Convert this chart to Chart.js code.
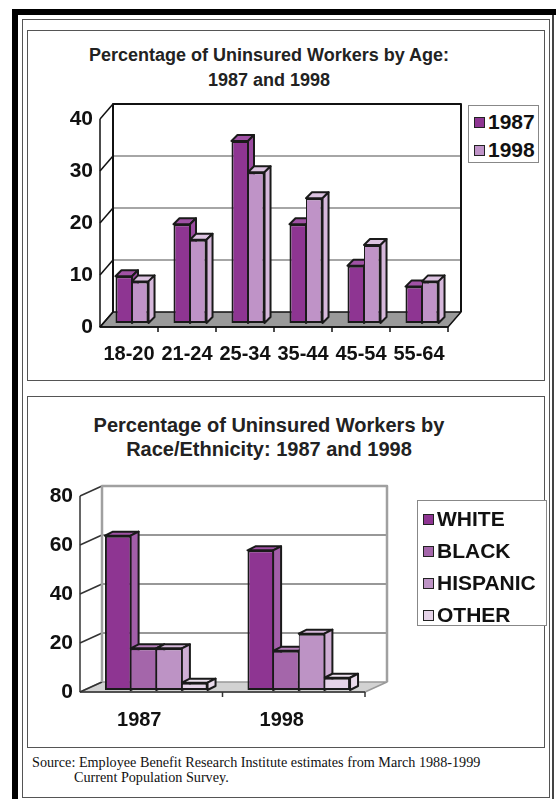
<!DOCTYPE html>
<html>
<head>
<meta charset="utf-8">
<script src="https://cdn.jsdelivr.net/npm/chart.js@4.4.0/dist/chart.umd.min.js"></script>
<style>
    body { margin: 0; width: 556px; height: 799px; position: relative; overflow: hidden; background: #fff;
           font-family: "Liberation Sans", Arial, sans-serif; color: #111; }
    .abs { position: absolute; box-sizing: border-box; }
    #outer { left: 12px; top: 9px; width: 560px; height: 800px; border-left: 6px solid #000; border-top: 6px solid #000; }
    #edge { left: 552px; top: 15px; width: 2px; height: 784px; background: #444; }
    #frame { left: 22px; top: 19px; width: 528px; height: 779px; border: 1.5px solid #555; }
    .panel { left: 27px; width: 518px; border: 1.5px solid #555; }
    #p1 { top: 30px; height: 351px; }
    #p2 { top: 396px; height: 352px; }
    .title { left: 19px; width: 500px; text-align: center; font-weight: bold; color: #222; }
    .legend { border: 1px solid #888; background: #fff; font-weight: bold; font-size: 21px; }
    .legend div { position: absolute; left: 5px; white-space: nowrap; line-height: 24px; }
    .legend span { display: inline-block; width: 9px; height: 9px; border: 1.5px solid #222; margin-right: 3px; vertical-align: 1px; }
    #src { left: 32px; top: 755px; font-family: "Liberation Serif", "Times New Roman", serif; font-size: 14.2px; line-height: 15px; color: #111; }
    canvas { position: absolute; }
</style>
</head>
<body>
<div class="abs" id="outer"></div>
<div class="abs" id="edge"></div>
<div class="abs" id="frame"></div>
<div class="abs panel" id="p1"></div>
<div class="abs panel" id="p2"></div>

<div class="abs title" style="top:43px;font-size:18px;line-height:25px;">Percentage of Uninsured Workers by Age:<br>1987 and 1998</div>
<div class="abs title" style="top:413px;font-size:20px;line-height:24px;">Percentage of Uninsured Workers by<br>Race/Ethnicity: 1987 and 1998</div>

<canvas id="ageChart" width="517" height="349" style="left:27px;top:31px;"></canvas>
<canvas id="raceChart" width="517" height="350" style="left:27px;top:397px;"></canvas>

<div class="abs legend" id="ageLegend" style="left:468px;top:105px;width:71px;height:58px;"></div>
<div class="abs legend" id="raceLegend" style="left:417px;top:500px;width:130px;height:126px;"></div>

<div class="abs" id="src">Source: Employee Benefit Research Institute estimates from March 1988-1999<br><span style="padding-left:42px">Current Population Survey.</span></div>

<script>
// chart 1: uninsured workers by age (%)
const ageLabels = ['18-20', '21-24', '25-34', '35-44', '45-54', '55-64'];
const ageSeries = ['1987', '1998'];
const age1987 = [9, 19, 35, 19, 11, 7];
const age1998 = [8, 16, 29, 24, 15, 8];
const ageTicks = [0, 10, 20, 30, 40];

// chart 2: uninsured workers by race/ethnicity (%)
const raceYears = ['1987', '1998'];
const raceGroups = ['WHITE', 'BLACK', 'HISPANIC', 'OTHER'];
const raceWhite = [63, 57];
const raceBlack = [17, 16];
const raceHispanic = [17, 23];
const raceOther = [3, 5];
const raceTicks = [0, 20, 40, 60, 80];

// front / top / side colours of the fake 3d bars
const ageFront = ['#8e3592', '#bf93c7'];
const ageTop = ['#a052a5', '#dcc3e1'];
const ageSide = ['#9b4ba0', '#d6b8db'];
const raceFront = ['#8e3592', '#a466aa', '#bd93c5', '#e5d3e8'];
const raceTop = ['#a052a5', '#b680bb', '#d6b9db', '#efe3f1'];
const raceSide = ['#a25ea9', '#b27cb8', '#cfaed4', '#eadcec'];

function poly(ctx, pts, fill) {
    ctx.beginPath();
    ctx.moveTo(pts[0][0], pts[0][1]);
    for (let i = 1; i < pts.length; i++) ctx.lineTo(pts[i][0], pts[i][1]);
    ctx.closePath();
    if (fill) { ctx.fillStyle = fill; ctx.fill(); }
    ctx.stroke();
}

function line(ctx, x1, y1, x2, y2) {
    ctx.beginPath();
    ctx.moveTo(x1, y1);
    ctx.lineTo(x2, y2);
    ctx.stroke();
}

// walls, floor and bar tops/sides drawn under the library's bar fronts
const box3d = {
    id: 'box3d',
    beforeDatasetsDraw(chart, args, o) {
        const ctx = chart.ctx, a = chart.chartArea, ys = chart.scales.y;
        const L = a.left, R = a.right, f = o.front, b = o.back;
        const y0 = ys.getPixelForValue(ys.min), yT = ys.getPixelForValue(ys.max);
        ctx.save();
        ctx.lineJoin = 'round';

        // floor
        ctx.strokeStyle = o.floorStroke; ctx.lineWidth = 1.5;
        poly(ctx, [[L + f.dx, y0 + f.dy], [R + f.dx, y0 + f.dy], [R + b.dx, y0 + b.dy], [L + b.dx, y0 + b.dy]], o.floorFill);

        // gridlines on back wall, slants on left wall
        ys.ticks.forEach(function (t) {
            const py = ys.getPixelForValue(t.value);
            if (t.value !== ys.min && t.value !== ys.max) {
                ctx.strokeStyle = o.gridColor; ctx.lineWidth = o.gridWidth;
                line(ctx, L + b.dx, py + b.dy, R + b.dx, py + b.dy);
            }
            ctx.strokeStyle = o.axisColor; ctx.lineWidth = 1.5;
            line(ctx, L + f.dx, py + f.dy, L + b.dx, py + b.dy);
        });

        // back wall outline
        ctx.strokeStyle = o.wallColor; ctx.lineWidth = o.wallWidth;
        ctx.beginPath();
        ctx.moveTo(L + b.dx, y0 + b.dy);
        ctx.lineTo(L + b.dx, yT + b.dy);
        ctx.lineTo(R + b.dx, yT + b.dy);
        ctx.lineTo(R + b.dx, y0 + b.dy);
        ctx.stroke();

        // front axes and category tick marks
        ctx.strokeStyle = o.axisColor; ctx.lineWidth = 1.5;
        line(ctx, L + f.dx, y0 + f.dy, L + f.dx, yT + f.dy);
        line(ctx, L + f.dx, y0 + f.dy, R + f.dx, y0 + f.dy);
        const n = chart.data.labels.length;
        for (let i = 1; i <= n; i++) {
            const px = L + i * (R - L) / n + f.dx;
            line(ctx, px, y0 + f.dy, px, y0 + f.dy + 5);
        }

        // top and side faces, left to right
        ctx.strokeStyle = '#1a1a1a'; ctx.lineWidth = 2;
        const d = o.bar;
        for (let i = 0; i < n; i++) {
            chart.data.datasets.forEach(function (ds, di) {
                const el = chart.getDatasetMeta(di).data[i];
                const p = el.getProps(['x', 'y', 'base', 'width'], true);
                const l = p.x - p.width / 2, r = p.x + p.width / 2;
                poly(ctx, [[l, p.y], [l + d.dx, p.y - d.dy], [r + d.dx, p.y - d.dy], [r, p.y]], o.top[di]);
                poly(ctx, [[r, p.y], [r + d.dx, p.y - d.dy], [r + d.dx, p.base - d.dy], [r, p.base]], o.side[di]);
            });
        }
        ctx.restore();
    },
};

function edgeBorder(i, count) {
    return { top: 2, bottom: 2, left: i === 0 ? 2 : 1, right: i === count - 1 ? 2 : 1 };
}

function makeChart(id, cfg) {
    return new Chart(document.getElementById(id), {
        type: 'bar',
        data: {
            labels: cfg.labels,
            datasets: cfg.series.map(function (name, i) {
                return {
                    label: name,
                    data: cfg.values[i],
                    backgroundColor: cfg.front[i],
                    borderColor: '#1a1a1a',
                    borderWidth: edgeBorder(i, cfg.series.length),
                    borderSkipped: false,
                    barPercentage: 1,
                    categoryPercentage: cfg.catPct,
                };
            }),
        },
        options: {
            responsive: false,
            animation: false,
            devicePixelRatio: 1,
            layout: { padding: cfg.padding },
            plugins: {
                legend: { display: false },
                tooltip: { enabled: false },
                box3d: cfg.box,
            },
            scales: {
                x: {
                    grid: { display: false, drawTicks: false },
                    border: { display: false },
                    ticks: {
                        color: '#111', font: { family: 'Liberation Sans', size: 20, weight: 'bold' },
                        padding: cfg.xPad, labelOffset: cfg.xOffset, maxRotation: 0, autoSkip: false,
                    },
                    afterFit: function (s) { s.height = cfg.xHeight; },
                },
                y: {
                    min: cfg.ticks[0],
                    max: cfg.ticks[cfg.ticks.length - 1],
                    grid: { display: false, drawTicks: false },
                    border: { display: false },
                    afterBuildTicks: function (s) { s.ticks = cfg.ticks.map(function (v) { return { value: v }; }); },
                    ticks: {
                        color: '#111', font: { family: 'Liberation Sans', size: 21, weight: 'bold' },
                        padding: cfg.yPad, labelOffset: cfg.box.front.dy,
                    },
                    afterFit: function (s) { s.width = cfg.yWidth; },
                },
            },
        },
        plugins: [box3d],
    });
}

makeChart('ageChart', {
    labels: ageLabels,
    series: ageSeries,
    values: [age1987, age1998],
    ticks: ageTicks,
    front: ageFront,
    catPct: 0.57,
    padding: { left: 0, right: 93, top: 84, bottom: 0 },
    yWidth: 76, yPad: 10, xHeight: 57, xPad: 19, xOffset: -3,
    box: {
        front: { dx: -3, dy: 4 }, back: { dx: 10, dy: -11 }, bar: { dx: 6, dy: 6 },
        floorFill: '#9a9a9a', floorStroke: '#111', gridColor: '#888', gridWidth: 1.5,
        wallColor: '#111', wallWidth: 2, axisColor: '#111', top: ageTop, side: ageSide,
    },
});

makeChart('raceChart', {
    labels: raceYears,
    series: raceGroups,
    values: [raceWhite, raceBlack, raceHispanic, raceOther],
    ticks: raceTicks,
    front: raceFront,
    catPct: 0.72,
    padding: { left: 0, right: 174, top: 97, bottom: 0 },
    yWidth: 58, yPad: 12, xHeight: 57, xPad: 18, xOffset: -17,
    box: {
        front: { dx: -5, dy: 2 }, back: { dx: 17, dy: -8 }, bar: { dx: 8, dy: 4 },
        floorFill: '#d2d2d2', floorStroke: '#999', gridColor: '#333', gridWidth: 1.2,
        wallColor: '#a0a0a0', wallWidth: 2.5, axisColor: '#333', top: raceTop, side: raceSide,
    },
});

// legends built from the series names
function fillLegend(id, names, colors, firstY, step) {
    const box = document.getElementById(id);
    names.forEach(function (name, i) {
        const row = document.createElement('div');
        row.style.top = (firstY + i * step - 12) + 'px';
        row.innerHTML = '<span style="background:' + colors[i] + '"></span>' + name;
        box.appendChild(row);
    });
}
fillLegend('ageLegend', ageSeries, ageFront, 16, 28);
fillLegend('raceLegend', raceGroups, raceFront, 18, 32);
</script>
</body>
</html>
